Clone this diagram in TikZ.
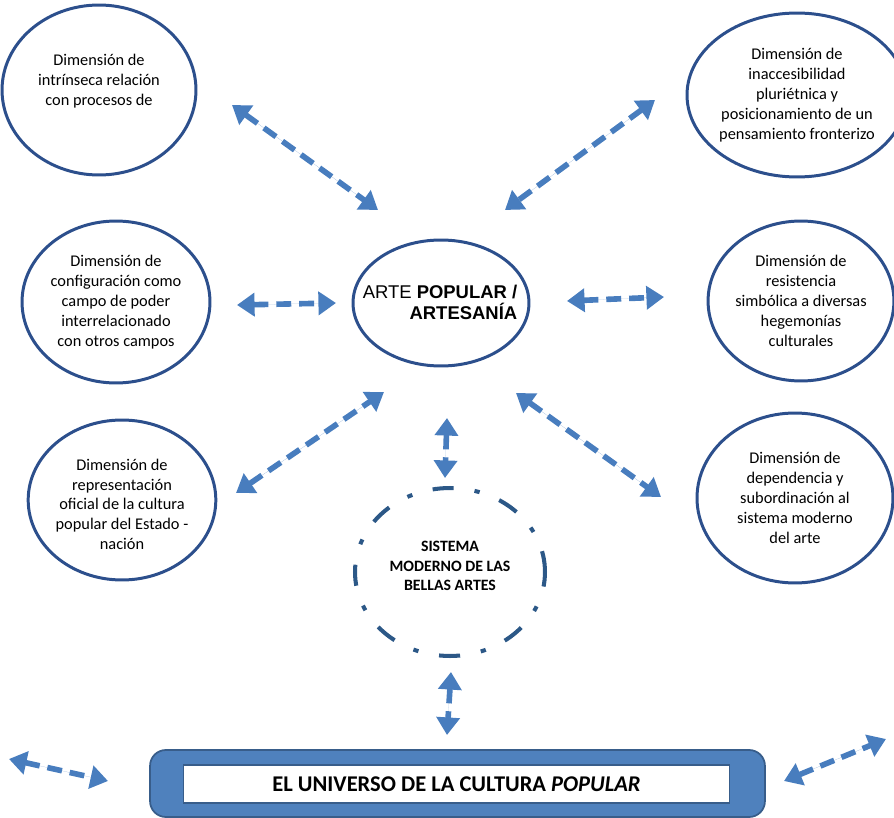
\documentclass[tikz,border=0pt]{standalone}
\usepackage{fontspec}
\setmainfont{Carlito}
\newfontfamily\arialfont{Liberation Sans}
\usetikzlibrary{shapes.geometric,arrows.meta}

\definecolor{bordeazul}{RGB}{44,79,140}
\definecolor{flechazul}{RGB}{72,125,190}
\definecolor{cajazul}{RGB}{79,129,189}
\definecolor{cajaborde}{RGB}{56,93,138}
\definecolor{sistazul}{RGB}{44,88,135}

\begin{document}
\begin{tikzpicture}[x=0.02cm, y=-0.02cm,
    dimension/.style={ellipse, draw=bordeazul, line width=1.7pt, inner sep=0pt,
        align=center, font=\fontsize{9.3}{11.3}\selectfont},
    flecha/.style={draw=flechazul, line width=3.2pt, dash pattern=on 8.5pt off 4.5pt,
        {Triangle[length=10pt,width=13pt]}-{Triangle[length=10pt,width=13pt]}, fill=flechazul}]
        \useasboundingbox (0,0) rectangle (894,818);

        % Centre
        \node[ellipse, draw=bordeazul, line width=1.7pt, minimum width=3.52cm, minimum height=2.52cm,
            inner sep=0pt] (arte) at (441,303) {};
        \node[align=right, font=\arialfont\fontsize{10.5}{12}\selectfont] (artetxt) at (440,302)
            {ARTE \textbf{POPULAR /}\\\textbf{ARTESANÍA}};

        % Dimensions (left)
        \node[dimension, minimum width=3.88cm, minimum height=3.4cm] (intrinseca) at (99,90)
            {Dimensión de\\intrínseca relación\\con procesos de\\ \mbox{}};
        \node[dimension, minimum width=3.76cm, minimum height=3.24cm] (configuracion) at (116,302)
            {Dimensión de\\configuración como\\campo de poder\\interrelacionado\\con otros campos};
        \node[dimension, minimum width=3.6cm, minimum height=3.2cm] (representacion) at (122,500)
            {\mbox{}\\Dimensión de\\representación\\oficial de la cultura\\popular del Estado -\\nación};

        % Dimensions (right)
        \node[dimension, minimum width=3.84cm, minimum height=3.28cm] (inaccesibilidad) at (797,95)
            {Dimensión de\\inaccesibilidad\\pluriétnica y\\posicionamiento de un\\pensamiento fronterizo};
        \node[dimension, minimum width=3.68cm, minimum height=3.2cm] (resistencia) at (801,301)
            {Dimensión de\\resistencia\\simbólica a diversas\\hegemonías\\culturales};
        \node[dimension, minimum width=3.92cm, minimum height=3.4cm] (dependencia) at (795,498)
            {Dimensión de\\dependencia y\\subordinación al\\sistema moderno\\del arte};

        % Sistema moderno (dash dot)
        \node[ellipse, draw=sistazul, line width=2.3pt, dash pattern=on 12pt off 12pt on 3pt off 12pt,
            minimum width=3.8cm, minimum height=3.36cm, inner sep=0pt] (sistema) at (450,572) {};
        \node[align=center, font=\fontsize{9}{11.3}\selectfont\bfseries] (sistematxt) at (450,566)
            {SISTEMA\\MODERNO DE LAS\\BELLAS ARTES};

        % Universo
        \node[draw=cajaborde, line width=1pt, fill=cajazul, rounded corners=9pt,
            minimum width=12.3cm, minimum height=1.34cm] (universo) at (457.5,783.5) {};
        \node[draw=cajaborde, line width=0.6pt, fill=white, minimum width=10.94cm, minimum height=0.76cm,
            font=\fontsize{12.8}{14}\selectfont\bfseries] (titulo) at (456.5,784)
            {EL UNIVERSO DE LA CULTURA \textit{POPULAR}};

        % Arrow ends
        \coordinate (p1) at (232,105);  \coordinate (q1) at (378,210);
        \coordinate (p2) at (655,100);  \coordinate (q2) at (505,210);
        \coordinate (p3) at (237,305);  \coordinate (q3) at (336,303);
        \coordinate (p4) at (567,301);  \coordinate (q4) at (664,297);
        \coordinate (p5) at (236,493);  \coordinate (q5) at (384,392);
        \coordinate (p6) at (516,393);  \coordinate (q6) at (661,497);
        \coordinate (p7) at (447,418);  \coordinate (q7) at (445,478);
        \coordinate (p8) at (451,672);  \coordinate (q8) at (447,735);
        \coordinate (p9) at (9,759);    \coordinate (q9) at (108,781);
        \coordinate (p10) at (784,781); \coordinate (q10) at (886,739);

        % Arrows
        \foreach \i in {1,...,10}
            \draw[flecha] (p\i) -- (q\i);
\end{tikzpicture}
\end{document}
